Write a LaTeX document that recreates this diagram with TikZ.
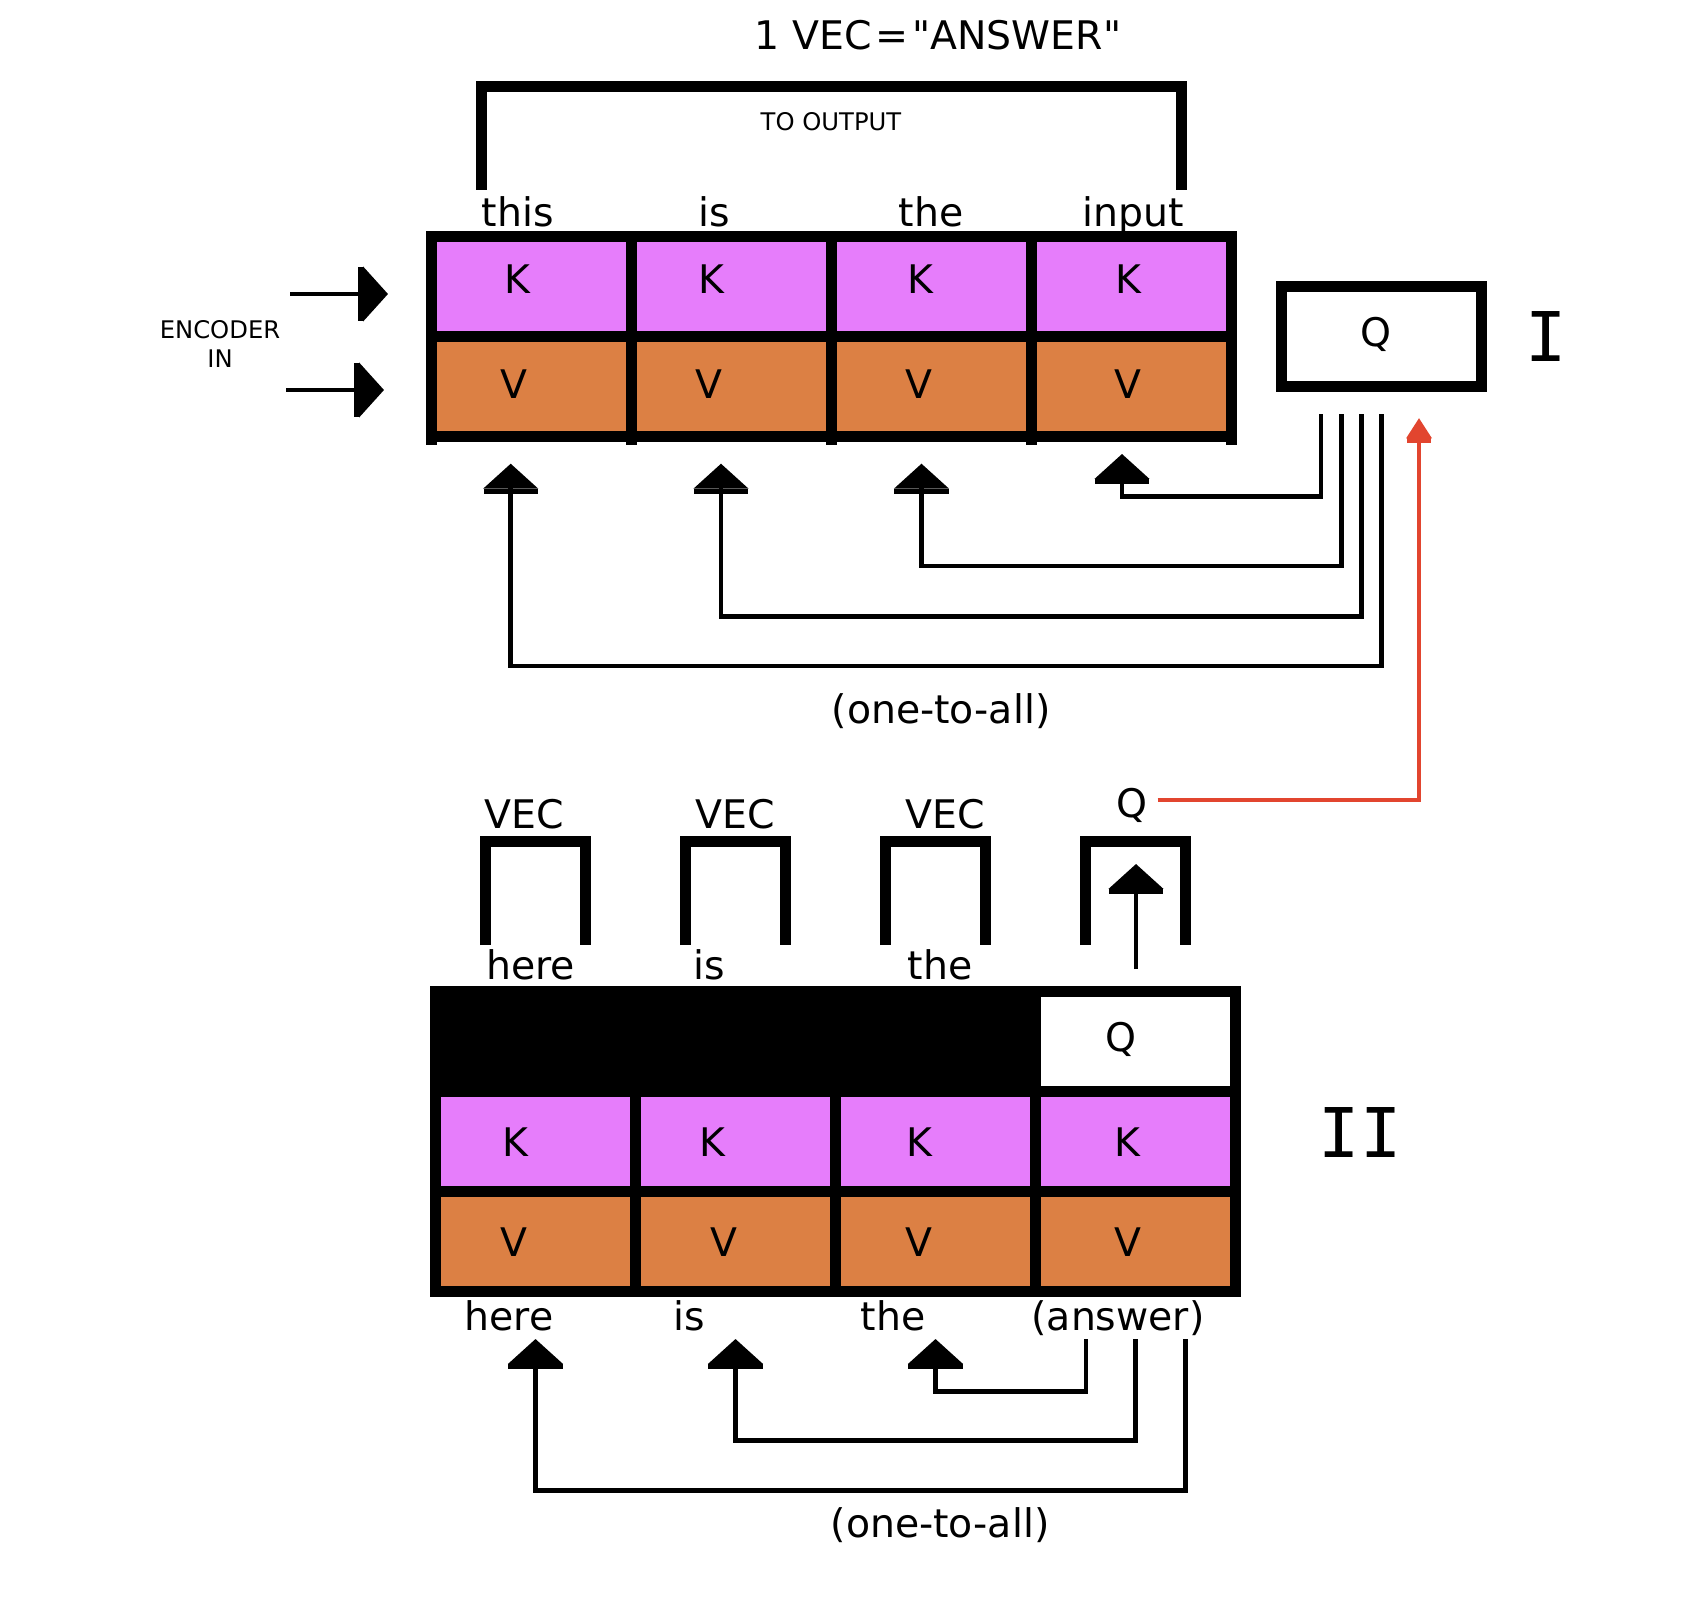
\documentclass[tikz,border=0pt]{standalone}
\usepackage{fontspec}
\setmainfont{DejaVu Sans}[Ligatures=TeXOff]
\newfontfamily\romfont{DejaVu Sans Mono}
\usetikzlibrary{arrows.meta}
\definecolor{kcol}{HTML}{E67DFB}
\definecolor{vcol}{HTML}{DC8044}
\definecolor{redc}{HTML}{E2452F}
\newcommand\mainsz{\fontsize{11.2}{13}\selectfont}
\newcommand\smallsz{\fontsize{6.9}{8.25}\selectfont}
\newcommand\romsz{\fontsize{19.5}{22}\selectfont\romfont}
\tikzset{
  BigHead/.tip={Rectangle[length=1.4pt,width=15.4pt,sep=0pt]Triangle[length=7.1pt,width=15.4pt,sep=0pt]},
  RedHead/.tip={Rectangle[length=1.3pt,width=7pt,sep=0pt]Triangle[length=5.8pt,width=7pt,sep=0pt]},
  cell/.style={draw=black,line width=3.13pt,minimum width=2cm,minimum height=1cm,inner sep=0pt,outer sep=0pt},
  kcell/.style={cell,fill=kcol},
  vcell/.style={cell,fill=vcol},
  txt/.style={inner sep=0pt,outer sep=0pt,anchor=base,font=\mainsz},
  smalltxt/.style={inner sep=0pt,outer sep=0pt,font=\smallsz,align=center},
  romtxt/.style={inner sep=0pt,outer sep=0pt,anchor=base,font=\romsz},
  conn/.style={line width=1.28pt,-BigHead},
  encconn/.style={line width=1.42pt,-BigHead},
  redconn/.style={line width=1.34pt,draw=redc,-{RedHead[fill=redc]}},
  brk/.style={line width=3.13pt,line join=miter},
  tick/.style={line width=3.13pt}
}
\begin{document}
\begin{tikzpicture}[x=0.01cm,y=-0.01cm]
\useasboundingbox[fill=white] (0,0) rectangle (1700,1600);

% ---------- Part I ----------
\node[txt] (title) at (938,50) {1 VEC\hspace{0.1em}=\hspace{0.1em}"ANSWER"};
\draw[brk] (481.5,190) -- (481.5,86.5) -- (1181,86.5) -- (1181,190);
\node[smalltxt,anchor=base] (toout) at (831,130) {TO OUTPUT};

\node[txt] (w1) at (517.6,227) {this};
\node[txt] (w2) at (714,227) {is};
\node[txt] (w3) at (931,227) {the};
\node[txt] (w4) at (1133,227) {input};

\foreach \i in {1,...,4}{
  \node[kcell] (k\i) at ({331.5+200*\i},286.5) {};
  \node[vcell] (v\i) at ({331.5+200*\i},386.5) {};
}
\foreach \i in {1,...,4}{
  \draw[tick] (v\i.south west) -- ++(0,8.5);
}
\draw[tick] (v4.south east) -- ++(0,8.5);

\node[txt] (kl1) at (517,294) {K};
\node[txt] (kl2) at (711,294) {K};
\node[txt] (kl3) at (920,294) {K};
\node[txt] (kl4) at (1128,294) {K};
\node[txt] (vl1) at (514,398) {V};
\node[txt] (vl2) at (709,398) {V};
\node[txt] (vl3) at (919,398) {V};
\node[txt] (vl4) at (1128,398) {V};

\node[smalltxt] (enc) at (220,343.5) {ENCODER\\IN};
\coordinate (ea1) at (290,294);
\coordinate (eb1) at (388,294);
\coordinate (ea2) at (286,390);
\coordinate (eb2) at (384,390);
\draw[encconn] (ea1) -- (eb1);
\draw[encconn] (ea2) -- (eb2);

\node[cell,fill=white,minimum width=1.995cm] (qbox) at (1381.25,336.5) {};
\node[txt] (qlab) at (1376,346) {Q};
\node[romtxt] (rom1) at (1546,361) {I};

\coordinate (s1) at (1321,414);
\coordinate (s2) at (1341.6,414);
\coordinate (s3) at (1361.6,414);
\coordinate (s4) at (1381.7,414);
\coordinate (t1) at (1122,454);
\coordinate (t2) at (921.5,463.7);
\coordinate (t3) at (721,463.7);
\coordinate (t4) at (510.7,463.7);
\draw[conn] (s1) -- ++(0,82.5) -| (t1);
\draw[conn] (s2) -- ++(0,152) -| (t2);
\draw[conn] (s3) -- ++(0,202.7) -| (t3);
\draw[conn] (s4) -- ++(0,252) -| (t4);
\node[txt] (ota1) at (941,723) {(one-to-all)};

% ---------- Part II ----------
\node[txt] (vec1) at (524.5,828) {VEC};
\node[txt] (vec2) at (735,828) {VEC};
\node[txt] (vec3) at (945,828) {VEC};
\node[txt] (qtop) at (1132,817) {Q};
\coordinate (rs) at (1157.6,800);
\coordinate (re) at (1419,418);
\draw[redconn] (rs) -| (re);

\foreach \i in {0,...,3}{
  \draw[brk] ({485.5+200*\i},945) -- ({485.5+200*\i},841.5) -- ({585.5+200*\i},841.5) -- ({585.5+200*\i},945);
}
\coordinate (qa) at (1136,969);
\coordinate (qb) at (1136,864);
\draw[conn] (qa) -- (qb);

\node[txt] (u1) at (530.5,979) {here};
\node[txt] (u2) at (709,979) {is};
\node[txt] (u3) at (940,979) {the};

\node[cell,fill=black,minimum width=6cm] (mask) at (735.5,1041.5) {};
\node[cell,fill=white] (qcell) at (1135.5,1041.5) {};
\foreach \i in {1,...,4}{
  \node[kcell] (bk\i) at ({335.5+200*\i},1141.5) {};
  \node[vcell] (bv\i) at ({335.5+200*\i},1241.5) {};
}
\node[txt] (qcl) at (1121,1051) {Q};
\node[txt] (bkl1) at (515,1156) {K};
\node[txt] (bkl2) at (712,1156) {K};
\node[txt] (bkl3) at (919,1156) {K};
\node[txt] (bkl4) at (1127,1156) {K};
\node[txt] (bvl1) at (514,1256) {V};
\node[txt] (bvl2) at (723.5,1256) {V};
\node[txt] (bvl3) at (919,1256) {V};
\node[txt] (bvl4) at (1128,1256) {V};
\node[romtxt] (rom2) at (1360,1157) {II};

\node[txt] (x1) at (509,1330) {here};
\node[txt] (x2) at (689,1330) {is};
\node[txt] (x3) at (893,1330) {the};
\node[txt] (x4) at (1118,1330) {(answer)};

\coordinate (bs1) at (1086,1339);
\coordinate (bs2) at (1135.5,1339);
\coordinate (bs3) at (1185.5,1339);
\coordinate (bt1) at (935.5,1339);
\coordinate (bt2) at (735.5,1339);
\coordinate (bt3) at (535.5,1339);
\draw[conn] (bs1) -- ++(0,52.7) -| (bt1);
\draw[conn] (bs2) -- ++(0,101.7) -| (bt2);
\draw[conn] (bs3) -- ++(0,151.7) -| (bt3);
\node[txt] (ota2) at (940,1537) {(one-to-all)};
\end{tikzpicture}
\end{document}
